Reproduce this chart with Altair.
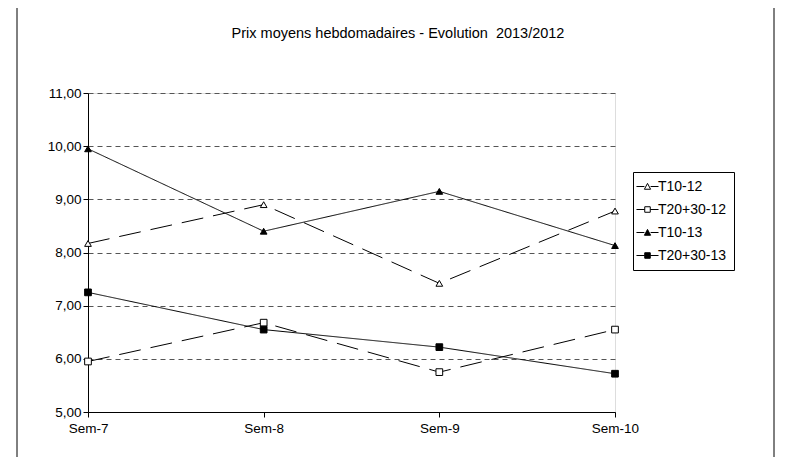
import altair as alt
import pandas as pd

weeks = ["Sem-7", "Sem-8", "Sem-9", "Sem-10"]
series = ["T10-12", "T20+30-12", "T10-13", "T20+30-13"]
t10_12 = [8.17, 8.90, 7.42, 8.78]
t2030_12 = [5.95, 6.68, 5.75, 6.55]
t10_13 = [9.95, 8.40, 9.15, 8.13]
t2030_13 = [7.25, 6.55, 6.22, 5.72]

rows = []
for name, vals in zip(series, [t10_12, t2030_12, t10_13, t2030_13]):
    for w, v in zip(weeks, vals):
        rows.append({"week": w, "serie": name, "val": v, "year": name[-2:],
                     "kind": "sq" if "+" in name else "tri"})
df = pd.DataFrame(rows)

tri = "M-1.6,0H-0.45M0.45,0H1.6M-0.45,0.4L0,-0.45L0.45,0.4Z"
sq = "M-1.6,0H-0.4M0.4,0H1.6M-0.4,-0.4H0.4V0.4H-0.4Z"
FS = 13.5

xs = alt.Scale(type="point", padding=0, domain=weeks)
x = alt.X("week:N", title=None, scale=xs,
          axis=alt.Axis(labelAngle=0, grid=False, domainColor="black", tickColor="black",
                        tickSize=5, labelFontSize=FS, labelPadding=4, labelColor="black"))
y = alt.Y("val:Q", title=None, scale=alt.Scale(domain=[5, 11], nice=False, zero=False),
          axis=alt.Axis(values=[5, 6, 7, 8, 9, 10, 11], grid=True, gridDash=[5, 4],
                        gridColor="#555", domainColor="black", tickColor="black", tickSize=5,
                        labelFontSize=FS, labelColor="black",
                        labelExpr="replace(format(datum.value,'.2f'),'.',',')"))

base = alt.Chart(df)
lines = base.mark_line(color="black", strokeWidth=1).encode(
    x=x, y=y, detail="serie:N",
    strokeDash=alt.StrokeDash("year:N", scale=alt.Scale(domain=["12", "13"], range=[[22, 10], [1, 0]]), legend=None),
)
points = base.mark_point(color="black", strokeWidth=1, size=45, opacity=1).encode(
    x=x, y=y,
    shape=alt.Shape("kind:N", scale=alt.Scale(domain=["tri", "sq"], range=["triangle-up", "square"]), legend=None),
    fill=alt.Fill("year:N", scale=alt.Scale(domain=["12", "13"], range=["white", "black"]), legend=None),
)
leg = alt.Legend(title=None, orient="none", legendX=545, legendY=79, strokeColor="black",
                 padding=7, symbolSize=190, symbolStrokeWidth=1, labelFontSize=14,
                 rowPadding=8, labelColor="black", symbolOpacity=1, labelOffset=3)
legdf = pd.DataFrame({"lserie": series, "lx": weeks, "lv": [5, 5, 5, 5]})
legend_layer = alt.Chart(legdf).mark_point(strokeWidth=1, opacity=1).encode(
    x=alt.X("lx:N", scale=xs), y=alt.Y("lv:Q"),
    shape=alt.Shape("lserie:N", sort=series, scale=alt.Scale(domain=series, range=[tri, sq, tri, sq]), legend=leg),
    fill=alt.Fill("lserie:N", sort=series, scale=alt.Scale(domain=series, range=["white", "white", "black", "black"]), legend=leg),
    stroke=alt.Stroke("lserie:N", sort=series, scale=alt.Scale(domain=series, range=["black", "black", "black", "black"]), legend=leg),
).transform_filter("datum.lv > 100")
frame = alt.Chart(pd.DataFrame({"a": [0]})).mark_rect(fill=None, stroke="black", strokeWidth=1, clip=False).encode(
    x=alt.value(-71), x2=alt.value(686), y=alt.value(-86), y2=alt.value(372))
title = alt.Chart(pd.DataFrame({"t": ["Prix moyens hebdomadaires - Evolution\u00a0\u00a02013/2012"]})).mark_text(
    fontSize=14.5, color="black", font="Liberation Sans").encode(text="t:N", x=alt.value(310), y=alt.value(-59))

chart = alt.layer(frame, title, lines, points, legend_layer).resolve_scale(
    shape="independent", fill="independent", stroke="independent"
).properties(
    width=527, height=319, autosize=alt.AutoSizeParams(type="none"),
    padding={"left": 80, "top": 85, "right": 162, "bottom": 45},
).configure_view(stroke=None).configure(font="Liberation Sans")

chart.save("out.html", embed_options={"renderer": "svg", "actions": False})
